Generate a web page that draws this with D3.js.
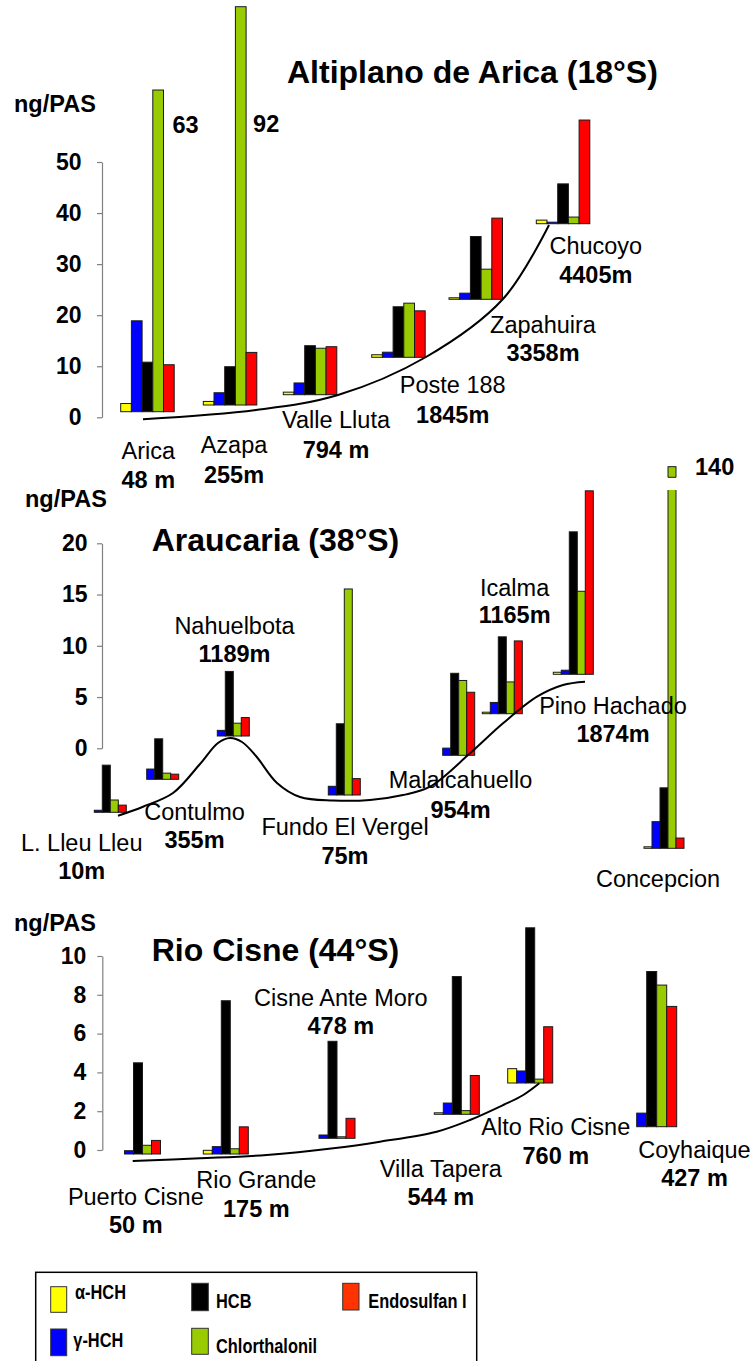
<!DOCTYPE html>
<html><head><meta charset="utf-8">
<script src="https://cdn.jsdelivr.net/npm/d3@7"></script>
<style>
body{margin:0;background:#fff}
svg{display:block}
text{font-family:"Liberation Sans",Arial,Helvetica,sans-serif;fill:#000}
</style>
</head><body>
<svg id="chart" width="754" height="1361"></svg>
<script>
// ---------------- DATA ----------------
const compounds = ["α-HCH","γ-HCH","HCB","Chlorthalonil","Endosulfan I"];
const barColors = ["#ffff00","#0000ff","#000000","#99cc00","#ff0000"];
const legendColors = ["#ffff00","#0000ff","#000000","#99cc00","#ff3300"];

// Panel 1 : Altiplano de Arica (18°S)
const sites1 = ["Arica","Azapa","Valle Lluta","Poste 188","Zapahuira","Chucoyo"];
const elev1  = ["48 m","255m","794 m","1845m","3358m","4405m"];
const aHCH1  = [1.6, 0.7, 0.5, 0.5, 0.3, 0.7];
const gHCH1  = [17.8, 2.4, 2.3, 1.0, 1.2, 0.3];
const hcb1   = [9.7, 7.5, 9.6, 9.9, 12.3, 7.8];
const chl1   = [63, 92, 9.1, 10.6, 5.9, 1.3];
const endo1  = [9.2, 10.3, 9.4, 9.1, 15.9, 20.3];
const ticks1 = [0, 10, 20, 30, 40, 50];

// Panel 2 : Araucaria (38°S)
const sites2 = ["L. Lleu Lleu","Contulmo","Nahuelbota","Fundo El Vergel","Malalcahuello","Icalma","Pino Hachado","Concepcion"];
const elev2  = ["10m","355m","1189m","75m","954m","1165m","1874m",""];
const aHCH2  = [null, null, null, null, null, 0, 0.2, 0];
const gHCH2  = [0.2, 1.0, 0.55, 0.85, 0.7, 1.1, 0.4, 2.6];
const hcb2   = [4.6, 3.95, 6.3, 6.95, 8.0, 7.5, 13.9, 5.9];
const chl2   = [1.2, 0.6, 1.25, 20.1, 7.3, 3.1, 8.1, 140];
const endo2  = [0.7, 0.5, 1.8, 1.6, 6.15, 7.1, 17.9, 1.0];
const ticks2 = [0, 5, 10, 15, 20];

// Panel 3 : Rio Cisne (44°S)
const sites3 = ["Puerto Cisne","Rio Grande","Cisne Ante Moro","Villa Tapera","Alto Rio Cisne","Coyhaique"];
const elev3  = ["50 m","175 m","478 m","544 m","760 m","427 m"];
const aHCH3  = [null, 0.19, null, 0, 0.74, null];
const gHCH3  = [0.17, 0.38, 0.17, 0.58, 0.62, 0.7];
const hcb3   = [4.7, 7.9, 5.0, 7.1, 8.0, 8.0];
const chl3   = [0.45, 0.27, 0, 0.19, 0.2, 7.3];
const endo3  = [0.7, 1.4, 1.03, 2.0, 2.9, 6.2];
const ticks3 = [0, 2, 4, 6, 8, 10];

// ---------------- LAYOUT ----------------
const FONT_REG = 23.5, FONT_BOLD = 23.5;
const panels = [
  {
    title:"Altiplano de Arica (18°S)", titleX:287, titleY:83,
    unitX:14, unitY:111.7,
    axisX:102, axisTop:162, axisBottom:417.3, ticks:ticks1, tickPad:15.5,
    sites:sites1, elev:elev1, series:[aHCH1,gHCH1,hcb1,chl1,endo1],
    bw:10.7, cap:6.7,
    groups:[
      {x:120.7, base:411.7, nx:148.3, ny:459.3, ey:488},
      {x:203.3, base:405,   nx:234,   ny:452.7, ey:483.3},
      {x:283.3, base:394.7, nx:336,   ny:428.3, ey:457.7},
      {x:371.7, base:357.3, nx:452.7, ny:393.3, ey:422.7},
      {x:449,   base:299.3, nx:543,   ny:333.3, ey:361},
      {x:536.3, base:223.7, nx:595.8, ny:254,   ey:282.7}
    ],
    valueLabels:[{site:0, comp:3, dx:9, y:133.3},{site:1, comp:3, dx:7, y:132.3}],
    curve:[[143,419.3],[256,410],[338,395],[426,357],[503,299],[549,225]]
  },
  {
    title:"Araucaria (38°S)", titleX:151.7, titleY:550.7,
    unitX:25, unitY:507.3,
    axisX:102, axisTop:543.3, axisBottom:748.3, ticks:ticks2, tickPad:9.5,
    sites:sites2, elev:elev2, series:[aHCH2,gHCH2,hcb2,chl2,endo2],
    bw:8, cap:466.7,
    brk:{site:7, comp:3, top:477.3, bottom:490},
    groups:[
      {x:86.3,  base:812.3, nx:81.7,  ny:851,   ey:879.3},
      {x:138.7, base:779.3, nx:194.5, ny:820,   ey:848.3},
      {x:209.3, base:736,   nx:234.5, ny:634,   ey:661.7},
      {x:320.3, base:795,   nx:345,   ny:835,   ey:864},
      {x:434.7, base:755.3, nx:460.5, ny:788.3, ey:817.7},
      {x:482.3, base:713.7, nx:514.6, ny:595.7, ey:623.3},
      {x:553.3, base:674.3, nx:613,   ny:714,   ey:741.7},
      {x:644,   base:848.3, nx:658,   ny:886.7, ey:0}
    ],
    valueLabels:[{site:7, comp:3, dx:19, y:475}],
    curve:[[118,815.7],[143,806.7],[173,793],[200,764],[218,743],[230,738],[242,742],[256,756],[277,783],[300,797],[333,800.5],[370,800],[403,795],[430,786.7],[470,753.3],[503,723.3],[537,696.7],[563,685],[585,681.7]]
  },
  {
    title:"Rio Cisne (44°S)", titleX:151.7, titleY:961,
    unitX:14, unitY:930.7,
    axisX:102.3, axisTop:956, axisBottom:1150, ticks:ticks3, tickPad:11,
    sites:sites3, elev:elev3, series:[aHCH3,gHCH3,hcb3,chl3,endo3],
    bw:9, cap:0,
    groups:[
      {x:115.5, base:1154,   nx:135.8, ny:1205,   ey:1233},
      {x:203.3, base:1154,   nx:256.3, ny:1188.3, ey:1217.3},
      {x:310,   base:1138.3, nx:340.8, ny:1006,   ey:1034},
      {x:434.3, base:1114.3, nx:440.8, ny:1176.7, ey:1205},
      {x:507.7, base:1083,   nx:555.8, ny:1135,   ey:1164},
      {x:626.7, base:1126.7, nx:694.5, ny:1158.3, ey:1185.7, bw:10}
    ],
    valueLabels:[],
    curve:[[132.7,1161],[200,1158.3],[266.7,1155],[333.3,1148.3],[380,1141.7],[436.7,1131.7],[470,1120],[503.3,1105],[523.3,1095],[539.3,1083.3]]
  }
];

const legendItems = [
  {i:0, sx:50.7,  sy:1286.7, sw:16,   sh:25.6, tx:75,    ty:1299.3},
  {i:1, sx:50.7,  sy:1329,   sw:16,   sh:26.7, tx:73.3,  ty:1346.7},
  {i:2, sx:191.7, sy:1283.3, sw:16.6, sh:27.4, tx:216,   ty:1308.3},
  {i:3, sx:191.7, sy:1328.3, sw:16.6, sh:26,   tx:216,   ty:1353.3},
  {i:4, sx:342.7, sy:1283.3, sw:16.3, sh:26.7, tx:368.3, ty:1308.3}
];

// ---------------- DRAW ----------------
const svg = d3.select("#chart");

function text(g, s, x, y, opt) {
  opt = opt || {};
  const t = g.append("text")
    .attr("transform", `translate(${x},${y})` + (opt.sx ? ` scale(${opt.sx},1)` : ""))
    .attr("text-anchor", opt.anchor || "start")
    .attr("font-size", opt.size || FONT_REG)
    .attr("font-weight", opt.weight || "normal")
    .text(s);
  return t;
}

panels.forEach(p => {
  const g = svg.append("g");
  const y = d3.scaleLinear().domain([0, d3.max(p.ticks)]).range([p.axisBottom, p.axisTop]);

  // axis
  const axis = d3.axisLeft(y).tickValues(p.ticks).tickSize(5).tickSizeOuter(0).tickPadding(p.tickPad);
  const ag = g.append("g").attr("transform", `translate(${p.axisX},0)`).call(axis);
  ag.select(".domain").attr("stroke", "#808080").attr("stroke-width", 1.2);
  ag.selectAll(".tick line").attr("stroke", "#808080").attr("stroke-width", 1.2);
  ag.selectAll(".tick text")
    .attr("font-family", '"Liberation Sans",Arial,sans-serif')
    .attr("font-size", 23).attr("font-weight", "bold").attr("fill", "#000");

  // unit + title
  text(g, "ng/PAS", p.unitX, p.unitY, {size:23.5, weight:"bold"});
  text(g, p.title, p.titleX, p.titleY, {size:32, weight:"bold"});

  // bars
  const bars = g.append("g");
  p.groups.forEach((grp, i) => {
    const bw = grp.bw || p.bw;
    const xb = d3.scaleBand().domain(compounds).range([grp.x, grp.x + bw * compounds.length]);
    compounds.forEach((c, j) => {
      const v = p.series[j][i];
      if (v === null || v === undefined) return;
      let h = y(0) - y(v);
      if (h < 1.5) h = 1.5;
      let top = grp.base - h;
      if (top < p.cap) top = p.cap;
      bars.append("rect")
        .attr("x", xb(c)).attr("y", top)
        .attr("width", xb.bandwidth()).attr("height", grp.base - top)
        .attr("fill", barColors[j])
        .attr("stroke", "#1a1a1a").attr("stroke-width", 1);
      if (p.brk && p.brk.site === i && p.brk.comp === j) {
        bars.append("rect")
          .attr("x", xb(c) - 2).attr("y", p.brk.top)
          .attr("width", xb.bandwidth() + 4).attr("height", p.brk.bottom - p.brk.top)
          .attr("fill", "#fff");
        bars.append("line").attr("x1", xb(c)).attr("x2", xb(c) + xb.bandwidth())
          .attr("y1", p.brk.top).attr("y2", p.brk.top).attr("stroke", "#1a1a1a");
      }
    });
  });

  // value labels for truncated bars
  p.valueLabels.forEach(vl => {
    const grp = p.groups[vl.site];
    const bw = grp.bw || p.bw;
    const xb = d3.scaleBand().domain(compounds).range([grp.x, grp.x + bw * compounds.length]);
    const v = p.series[vl.comp][vl.site];
    text(g, d3.format("d")(v), xb(compounds[vl.comp]) + xb.bandwidth() + vl.dx, vl.y, {size:23.5, weight:"bold"});
  });

  // site labels
  p.groups.forEach((grp, i) => {
    text(g, p.sites[i], grp.nx, grp.ny, {anchor:"middle", size:FONT_REG});
    if (p.elev[i]) text(g, p.elev[i], grp.nx, grp.ey, {anchor:"middle", size:FONT_BOLD, weight:"bold"});
  });

  // terrain curve
  const line = d3.line().curve(d3.curveCatmullRom.alpha(0.5));
  g.append("path").attr("d", line(p.curve))
    .attr("fill", "none").attr("stroke", "#000").attr("stroke-width", 2);
});

// legend
const lg = svg.append("g");
lg.append("rect").attr("x", 35.7).attr("y", 1272.3).attr("width", 441).attr("height", 100)
  .attr("fill", "none").attr("stroke", "#000").attr("stroke-width", 1.5);
legendItems.forEach(d => {
  lg.append("rect").attr("x", d.sx).attr("y", d.sy).attr("width", d.sw).attr("height", d.sh)
    .attr("fill", legendColors[d.i]).attr("stroke", "#333").attr("stroke-width", 1);
  text(lg, compounds[d.i], d.tx, d.ty, {size:20, weight:"bold", sx:0.82});
});
</script>
</body></html>
